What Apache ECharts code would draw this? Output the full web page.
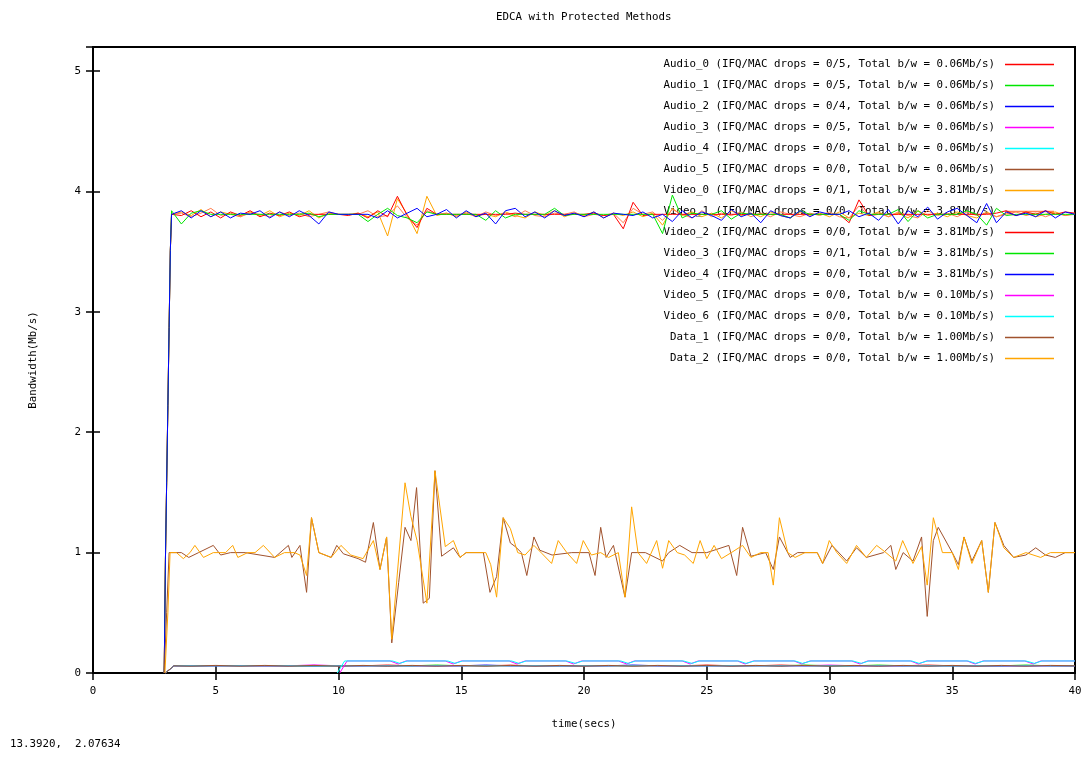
<!DOCTYPE html>
<html>
<head lang="en">
	<meta charset="UTF-8">
	<title>EDCA with Protected Methods</title>
	<script type="text/javascript" src="https://cdn.jsdelivr.net/npm/echarts@6/dist/echarts.min.js"></script>
	<style>
		html, body { margin: 0; padding: 0; background: #fff; }
		#chart { width: 1088px; height: 758px; }
	</style>
</head>
<body>
<div id="chart"></div>
<script>
// legend names
var flowNames = ['Audio_0', 'Audio_1', 'Audio_2', 'Audio_3', 'Audio_4', 'Audio_5',
	'Video_0', 'Video_1', 'Video_2', 'Video_3', 'Video_4', 'Video_5', 'Video_6', 'Data_1', 'Data_2'];
var flowDrops = ['0/5', '0/5', '0/4', '0/5', '0/0', '0/0', '0/1', '0/0', '0/0', '0/1', '0/0', '0/0', '0/0', '0/0', '0/0'];
var flowTotals = ['0.06', '0.06', '0.06', '0.06', '0.06', '0.06', '3.81', '3.81', '3.81', '3.81', '3.81', '0.10', '0.10', '1.00', '1.00'];
var flowColors = ['#ff0000', '#00e600', '#0000ff', '#ff00ff', '#00ffff', '#a0522d',
	'#ffa500', '#ff7f50', '#ff0000', '#00e600', '#0000ff', '#ff00ff', '#00ffff', '#a0522d', '#ffa500'];

// audio samples (secs)
var audioT = [2.95, 3.3, 4, 5, 6, 7, 8, 9, 10, 11, 12, 13, 14, 15, 16, 17, 18, 19, 20, 21,
	22, 23, 24, 25, 26, 27, 28, 29, 30, 31, 32, 33, 34, 35, 36, 37, 38, 39, 40];
var audio0 = [0, 0.06, 0.06, 0.061, 0.06, 0.059, 0.06, 0.06, 0.061, 0.06,
	0.066, 0.06, 0.06, 0.06, 0.06, 0.065, 0.06, 0.06, 0.06, 0.061,
	0.06, 0.06, 0.06, 0.066, 0.06, 0.06, 0.066, 0.06, 0.06, 0.06,
	0.06, 0.06, 0.066, 0.06, 0.06, 0.06, 0.06, 0.061, 0.06];
var audio1 = [0, 0.06, 0.059, 0.06, 0.06, 0.061, 0.06, 0.06, 0.06, 0.06,
	0.06, 0.06, 0.066, 0.06, 0.06, 0.06, 0.06, 0.059, 0.06, 0.06,
	0.06, 0.061, 0.06, 0.06, 0.06, 0.06, 0.06, 0.066, 0.06, 0.06,
	0.066, 0.06, 0.06, 0.06, 0.06, 0.06, 0.066, 0.06, 0.06];
var audio2 = [0, 0.06, 0.06, 0.06, 0.061, 0.06, 0.06, 0.059, 0.06, 0.06,
	0.06, 0.06, 0.06, 0.06, 0.066, 0.06, 0.06, 0.06, 0.06, 0.06,
	0.066, 0.06, 0.06, 0.06, 0.06, 0.061, 0.06, 0.06, 0.06, 0.06,
	0.06, 0.06, 0.06, 0.06, 0.06, 0.059, 0.06, 0.06, 0.06];
var audio3 = [0, 0.06, 0.06, 0.06, 0.06, 0.06, 0.06, 0.067, 0.06, 0.06,
	0.06, 0.061, 0.06, 0.06, 0.06, 0.06, 0.06, 0.06, 0.06, 0.06,
	0.06, 0.06, 0.06, 0.06, 0.06, 0.06, 0.06, 0.06, 0.066, 0.06,
	0.06, 0.06, 0.06, 0.061, 0.06, 0.06, 0.06, 0.06, 0.06];
var audio4 = [0, 0.06, 0.06, 0.06, 0.06, 0.06, 0.06, 0.06, 0.06, 0.06,
	0.06, 0.06, 0.06, 0.06, 0.06, 0.06, 0.06, 0.06, 0.06, 0.06,
	0.06, 0.06, 0.06, 0.06, 0.06, 0.06, 0.06, 0.06, 0.06, 0.06,
	0.06, 0.06, 0.06, 0.06, 0.06, 0.06, 0.06, 0.06, 0.06];
var audio5 = [0, 0.06, 0.057, 0.063, 0.057, 0.063, 0.057, 0.063, 0.057, 0.063,
	0.057, 0.063, 0.057, 0.063, 0.057, 0.063, 0.057, 0.063, 0.057, 0.063,
	0.057, 0.063, 0.057, 0.063, 0.057, 0.063, 0.057, 0.063, 0.057, 0.063,
	0.057, 0.063, 0.057, 0.063, 0.057, 0.063, 0.057, 0.063, 0.06];

// video samples (secs)
var videoT = [2.9, 2.95, 3.0, 3.05, 3.1, 3.15,
	3.2, 3.6, 4.0, 4.4, 4.8, 5.2, 5.6, 6.0, 6.4, 6.8,
	7.2, 7.6, 8.0, 8.4, 8.8, 9.2, 9.6, 10.0, 10.4, 10.8,
	11.2, 11.6, 12.0, 12.4, 12.8, 13.2, 13.6, 14.0, 14.4, 14.8,
	15.2, 15.6, 16.0, 16.4, 16.8, 17.2, 17.6, 18.0, 18.4, 18.8,
	19.2, 19.6, 20.0, 20.4, 20.8, 21.2, 21.6, 22.0, 22.4, 22.8,
	23.2, 23.6, 24.0, 24.4, 24.8, 25.2, 25.6, 26.0, 26.4, 26.8,
	27.2, 27.6, 28.0, 28.4, 28.8, 29.2, 29.6, 30.0, 30.4, 30.8,
	31.2, 31.6, 32.0, 32.4, 32.8, 33.2, 33.6, 34.0, 34.4, 34.8,
	35.2, 35.6, 36.0, 36.4, 36.8, 37.2, 37.6, 38.0, 38.4, 38.8,
	39.2, 39.6, 40.0];
var video0 = [0, 0.94, 1.58, 2.22, 2.87, 3.51,
	3.81, 3.83, 3.80, 3.85, 3.79, 3.83, 3.81, 3.79, 3.83, 3.80,
	3.84, 3.79, 3.82, 3.80, 3.84, 3.78, 3.82, 3.81, 3.81, 3.82,
	3.79, 3.83, 3.63, 3.94, 3.81, 3.65, 3.96, 3.80, 3.82, 3.79,
	3.83, 3.80, 3.81, 3.79, 3.83, 3.80, 3.78, 3.83, 3.80, 3.84,
	3.79, 3.82, 3.80, 3.83, 3.78, 3.82, 3.80, 3.83, 3.79, 3.82,
	3.72, 3.86, 3.80, 3.83, 3.79, 3.82, 3.78, 3.84, 3.80, 3.82,
	3.79, 3.83, 3.80, 3.78, 3.83, 3.80, 3.82, 3.79, 3.83, 3.78,
	3.82, 3.80, 3.83, 3.79, 3.82, 3.78, 3.84, 3.80, 3.82, 3.79,
	3.83, 3.80, 3.78, 3.83, 3.79, 3.82, 3.80, 3.83, 3.79, 3.81,
	3.83, 3.80, 3.82];
var video1 = [0, 0.94, 1.58, 2.22, 2.87, 3.51,
	3.81, 3.82, 3.79, 3.82, 3.86, 3.80, 3.82, 3.79, 3.82, 3.81,
	3.79, 3.83, 3.80, 3.82, 3.79, 3.81, 3.83, 3.81, 3.81, 3.81,
	3.84, 3.79, 3.80, 3.88, 3.78, 3.72, 3.84, 3.81, 3.82, 3.80,
	3.82, 3.79, 3.83, 3.80, 3.82, 3.79, 3.84, 3.80, 3.79, 3.82,
	3.81, 3.83, 3.79, 3.81, 3.80, 3.82, 3.74, 3.86, 3.81, 3.83,
	3.76, 3.85, 3.81, 3.78, 3.84, 3.79, 3.82, 3.80, 3.83, 3.79,
	3.82, 3.79, 3.83, 3.81, 3.79, 3.82, 3.80, 3.83, 3.79, 3.78,
	3.88, 3.80, 3.82, 3.79, 3.83, 3.80, 3.78, 3.84, 3.80, 3.82,
	3.79, 3.83, 3.80, 3.82, 3.79, 3.81, 3.83, 3.80, 3.82, 3.79,
	3.82, 3.80, 3.81];
var video2 = [0, 0.94, 1.58, 2.22, 2.87, 3.51,
	3.81, 3.80, 3.84, 3.79, 3.83, 3.78, 3.83, 3.80, 3.84, 3.79,
	3.82, 3.80, 3.83, 3.79, 3.81, 3.81, 3.81, 3.81, 3.80, 3.82,
	3.78, 3.84, 3.79, 3.96, 3.80, 3.70, 3.86, 3.81, 3.81, 3.81,
	3.81, 3.81, 3.81, 3.81, 3.81, 3.82, 3.81, 3.81, 3.81, 3.81,
	3.81, 3.81, 3.81, 3.82, 3.80, 3.81, 3.69, 3.91, 3.80, 3.81,
	3.81, 3.81, 3.81, 3.81, 3.81, 3.81, 3.81, 3.81, 3.81, 3.81,
	3.81, 3.81, 3.81, 3.81, 3.81, 3.81, 3.81, 3.81, 3.81, 3.74,
	3.93, 3.80, 3.81, 3.81, 3.81, 3.81, 3.81, 3.81, 3.81, 3.81,
	3.81, 3.81, 3.81, 3.81, 3.82, 3.84, 3.80, 3.83, 3.81, 3.84,
	3.81, 3.83, 3.82];
var video3 = [0, 0.94, 1.58, 2.22, 2.87, 3.51,
	3.84, 3.73, 3.82, 3.84, 3.81, 3.81, 3.81, 3.81, 3.81, 3.81,
	3.81, 3.81, 3.81, 3.81, 3.82, 3.79, 3.81, 3.81, 3.81, 3.81,
	3.75, 3.81, 3.86, 3.80, 3.78, 3.74, 3.83, 3.81, 3.81, 3.81,
	3.81, 3.81, 3.76, 3.84, 3.78, 3.81, 3.81, 3.81, 3.81, 3.86,
	3.80, 3.81, 3.81, 3.81, 3.81, 3.81, 3.81, 3.81, 3.81, 3.81,
	3.65, 3.97, 3.78, 3.82, 3.81, 3.81, 3.84, 3.77, 3.82, 3.81,
	3.81, 3.81, 3.81, 3.78, 3.84, 3.81, 3.81, 3.81, 3.81, 3.76,
	3.84, 3.81, 3.81, 3.81, 3.85, 3.75, 3.84, 3.78, 3.81, 3.81,
	3.81, 3.84, 3.81, 3.72, 3.86, 3.80, 3.81, 3.81, 3.81, 3.81,
	3.81, 3.81, 3.81];
var video4 = [0, 0.94, 1.58, 2.22, 2.87, 3.51,
	3.81, 3.84, 3.78, 3.84, 3.79, 3.83, 3.78, 3.82, 3.81, 3.84,
	3.78, 3.83, 3.79, 3.84, 3.80, 3.73, 3.83, 3.81, 3.81, 3.81,
	3.81, 3.78, 3.84, 3.78, 3.82, 3.86, 3.79, 3.81, 3.85, 3.78,
	3.84, 3.79, 3.82, 3.73, 3.84, 3.86, 3.79, 3.83, 3.78, 3.84,
	3.80, 3.82, 3.79, 3.83, 3.78, 3.82, 3.81, 3.80, 3.83, 3.78,
	3.81, 3.75, 3.84, 3.78, 3.83, 3.80, 3.76, 3.85, 3.79, 3.82,
	3.74, 3.84, 3.80, 3.78, 3.84, 3.79, 3.83, 3.81, 3.81, 3.84,
	3.79, 3.82, 3.76, 3.85, 3.73, 3.84, 3.79, 3.87, 3.77, 3.83,
	3.86, 3.80, 3.74, 3.90, 3.74, 3.83, 3.80, 3.82, 3.79, 3.84,
	3.78, 3.83, 3.81];
// [secs, Mb/s]
var video5 = [[10.05, 0], [10.35, 0.10], [12.1, 0.10], [12.43, 0.075], [12.75, 0.10], [14.35, 0.10], [14.67, 0.075], [15.0, 0.10],
	[16.95, 0.10], [17.27, 0.075], [17.6, 0.10], [19.25, 0.10], [19.57, 0.075], [19.9, 0.10], [21.4, 0.10], [21.74, 0.075], [22.05, 0.10],
	[24.0, 0.10], [24.32, 0.075], [24.65, 0.10], [26.25, 0.10], [26.56, 0.075], [26.9, 0.10], [28.55, 0.10], [28.87, 0.075], [29.2, 0.10],
	[30.9, 0.10], [31.24, 0.075], [31.55, 0.10], [33.3, 0.10], [33.62, 0.075], [33.95, 0.10], [35.6, 0.10], [35.93, 0.075], [36.25, 0.10],
	[37.95, 0.10], [38.3, 0.075], [38.6, 0.10], [40, 0.10]];
var video6 = [[9.95, 0], [10.25, 0.10], [12.2, 0.10], [12.5, 0.08], [12.8, 0.10], [14.45, 0.10], [14.75, 0.08], [15.05, 0.10],
	[17.05, 0.10], [17.35, 0.08], [17.65, 0.10], [19.3, 0.10], [19.65, 0.08], [19.95, 0.10], [21.5, 0.10], [21.8, 0.08], [22.1, 0.10],
	[24.05, 0.10], [24.4, 0.08], [24.7, 0.10], [26.3, 0.10], [26.6, 0.08], [26.95, 0.10], [28.6, 0.10], [28.9, 0.08], [29.25, 0.10],
	[30.95, 0.10], [31.3, 0.08], [31.6, 0.10], [33.35, 0.10], [33.65, 0.08], [34.0, 0.10], [35.65, 0.10], [35.95, 0.08], [36.3, 0.10],
	[38.0, 0.10], [38.35, 0.08], [38.65, 0.10], [40, 0.10]];
var data1 = [[2.9, 0], [3.0, 0.5], [3.1, 1.0], [3.6, 1.0], [3.9, 0.96], [4.3, 1.0], [4.9, 1.06], [5.2, 0.98], [5.6, 1.0], [6.2, 1.0],
	[7.4, 0.96], [7.96, 1.06], [8.1, 0.96], [8.43, 1.06], [8.7, 0.67], [8.9, 1.29], [9.2, 1.0], [9.7, 0.96], [9.93, 1.06], [10.2, 0.99],
	[10.8, 0.95], [11.1, 0.92], [11.42, 1.25], [11.69, 0.86], [11.96, 1.13], [12.17, 0.25], [12.45, 0.75], [12.71, 1.21], [12.95, 1.1],
	[13.18, 1.54], [13.45, 0.58], [13.7, 0.62], [13.93, 1.68], [14.2, 0.97], [14.68, 1.04], [14.95, 0.96], [15.2, 1.0], [15.9, 1.0],
	[16.17, 0.67], [16.44, 0.8], [16.71, 1.29], [17.0, 1.08], [17.2, 1.05], [17.45, 1.0], [17.67, 0.81], [17.96, 1.13], [18.2, 1.02],
	[18.7, 0.98], [19.5, 1.0], [20.2, 1.0], [20.45, 0.81], [20.68, 1.21], [20.9, 0.96], [21.2, 1.06], [21.67, 0.63], [21.94, 1.0],
	[22.5, 1.0], [23.2, 0.93], [23.45, 1.0], [23.9, 1.06], [24.4, 1.0], [25.0, 1.0], [25.9, 1.06], [26.22, 0.81], [26.46, 1.21],
	[26.8, 0.97], [27.4, 1.0], [27.71, 0.86], [27.96, 1.13], [28.4, 0.96], [28.7, 1.0], [29.5, 1.0], [29.72, 0.91], [30.1, 1.06],
	[30.7, 0.93], [31.1, 1.04], [31.5, 0.96], [32.2, 1.0], [32.5, 1.06], [32.7, 0.86], [33.0, 1.0], [33.4, 0.93], [33.75, 1.13],
	[33.98, 0.47], [34.23, 1.1], [34.43, 1.21], [35.0, 1.0], [35.25, 0.9], [35.48, 1.13], [35.8, 0.93], [36.2, 1.1], [36.47, 0.67],
	[36.74, 1.25], [37.1, 1.06], [37.5, 0.96], [38.0, 0.98], [38.4, 1.04], [38.8, 0.98], [39.2, 0.96], [39.6, 1.0], [40, 1.0]];
var data2 = [[2.93, 0], [3.05, 0.5], [3.14, 1.0], [3.4, 1.0], [3.68, 0.95], [3.95, 1.0], [4.15, 1.06], [4.5, 0.96], [4.9, 1.0], [5.4, 1.0],
	[5.69, 1.06], [5.9, 0.96], [6.3, 1.0], [6.6, 1.0], [6.94, 1.06], [7.4, 0.96], [7.8, 1.0], [8.2, 1.0], [8.43, 0.98], [8.7, 0.81],
	[8.9, 1.29], [9.2, 1.0], [9.7, 0.96], [10.1, 1.06], [10.5, 0.98], [11.0, 0.95], [11.42, 1.1], [11.69, 0.86], [11.96, 1.13],
	[12.17, 0.28], [12.71, 1.58], [12.95, 1.3], [13.2, 1.1], [13.6, 0.58], [13.93, 1.68], [14.35, 1.05], [14.68, 1.1], [14.95, 0.96],
	[15.2, 1.0], [16.0, 1.0], [16.2, 0.9], [16.44, 0.63], [16.71, 1.29], [17.0, 1.2], [17.3, 1.0], [17.6, 0.98], [17.96, 1.06],
	[18.3, 0.99], [18.68, 0.91], [18.95, 1.1], [19.3, 1.0], [19.7, 0.91], [19.97, 1.1], [20.3, 0.98], [20.68, 1.0], [21.0, 0.96],
	[21.4, 1.0], [21.67, 0.63], [21.94, 1.38], [22.2, 1.0], [22.55, 0.91], [22.96, 1.1], [23.2, 0.87], [23.45, 1.1], [23.8, 1.0],
	[24.1, 0.98], [24.45, 0.91], [24.73, 1.1], [25.0, 0.95], [25.3, 1.06], [25.6, 0.95], [26.0, 1.0], [26.46, 1.06], [26.8, 0.96],
	[27.2, 1.0], [27.5, 1.0], [27.71, 0.73], [27.96, 1.29], [28.3, 1.0], [28.6, 0.96], [29.0, 1.0], [29.5, 1.0], [29.72, 0.91],
	[29.99, 1.1], [30.3, 1.0], [30.7, 0.91], [31.1, 1.06], [31.5, 0.96], [31.92, 1.06], [32.3, 1.0], [32.7, 0.93], [32.98, 1.1],
	[33.4, 0.91], [33.75, 1.05], [33.98, 0.73], [34.23, 1.29], [34.6, 1.0], [35.0, 1.0], [35.25, 0.86], [35.48, 1.13], [35.8, 0.91],
	[36.2, 1.1], [36.47, 0.67], [36.74, 1.25], [37.1, 1.04], [37.5, 0.96], [38.0, 1.0], [38.6, 0.96], [39.0, 1.0], [40, 1.0]];

var xMin = 0, xMax = 40, xStep = 5;
var yMin = 0, yMax = 5.2, yStep = 1;
var monoFont = '"DejaVu Sans Mono", "Liberation Mono", monospace';

drawChart();

function pairs(times, values) {
	return times.map(function (t, i) { return [t, values[i]]; });
}

function drawChart() {
	var myChart = echarts.init(document.getElementById('chart'));
	var seriesData = [
		pairs(audioT, audio0), pairs(audioT, audio1), pairs(audioT, audio2),
		pairs(audioT, audio3), pairs(audioT, audio4), pairs(audioT, audio5),
		pairs(videoT, video0), pairs(videoT, video1), pairs(videoT, video2),
		pairs(videoT, video3), pairs(videoT, video4), video5, video6, data1, data2
	];
	var legendNames = [];
	var series = [];
	for (var i = 0; i < flowNames.length; i++) {
		var name = flowNames[i] + ' (IFQ/MAC drops = ' + flowDrops[i] + ', Total b/w = ' + flowTotals[i] + 'Mb/s)';
		legendNames.push(name);
		series.push({
			name: name,
			type: 'line',
			data: seriesData[i],
			symbol: 'none',
			color: flowColors[i],
			lineStyle: { width: 1, color: flowColors[i] }
		});
	}
	var tickStyle = { inside: true, length: 7, lineStyle: { color: '#000', width: 1.5 } };
	var option = {
		animation: false,
		backgroundColor: '#fff',
		title: {
			text: 'EDCA with Protected Methods',
			left: 496,
			top: 12,
			padding: 0,
			textStyle: { fontFamily: monoFont, fontSize: 10.8, fontWeight: 'normal', color: '#000' }
		},
		grid: {
			left: 93, right: 13, top: 47, bottom: 85,
			show: true, borderColor: '#000', borderWidth: 2, backgroundColor: 'transparent'
		},
		legend: {
			orient: 'vertical',
			right: 34,
			top: 58,
			padding: 0,
			align: 'right',
			icon: 'rect',
			itemWidth: 49,
			itemHeight: 1.5,
			itemGap: 8,
			z: 1,
			data: legendNames,
			textStyle: { fontFamily: monoFont, fontSize: 10.8, color: '#000', lineHeight: 13, padding: [0, 5, 0, 0] }
		},
		xAxis: [
			{
				type: 'value', min: xMin, max: xMax, interval: xStep, position: 'bottom',
				axisLine: { show: false }, axisTick: tickStyle, splitLine: { show: false },
				axisLabel: { color: '#000', fontFamily: monoFont, fontSize: 10.8, margin: 13 },
				name: 'time(secs)', nameLocation: 'middle', nameGap: 46,
				nameTextStyle: { color: '#000', fontFamily: monoFont, fontSize: 10.8 }
			},
			{
				type: 'value', min: xMin, max: xMax, interval: xStep, position: 'top',
				axisLine: { show: false }, axisTick: tickStyle, splitLine: { show: false },
				axisLabel: { show: false }
			}
		],
		yAxis: [
			{
				type: 'value', min: yMin, max: yMax, interval: yStep, position: 'left',
				axisLine: { show: false }, axisTick: tickStyle, splitLine: { show: false },
				axisLabel: {
					color: '#000', fontFamily: monoFont, fontSize: 10.8, margin: 12,
					formatter: function (v) { return v % 1 === 0 ? String(v) : ''; }
				},
				name: 'Bandwidth(Mb/s)', nameLocation: 'middle', nameGap: 54,
				nameTextStyle: { color: '#000', fontFamily: monoFont, fontSize: 10.8 }
			},
			{
				type: 'value', min: yMin, max: yMax, interval: yStep, position: 'right',
				axisLine: { show: false }, axisTick: tickStyle, splitLine: { show: false },
				axisLabel: { show: false }
			}
		],
		graphic: [
			{
				type: 'text', left: 10, top: 739,
				style: { text: '13.3920,  2.07634', font: '10.8px ' + monoFont, fill: '#000' }
			}
		],
		series: series
	};
	myChart.setOption(option);
}
</script>
</body>
</html>
